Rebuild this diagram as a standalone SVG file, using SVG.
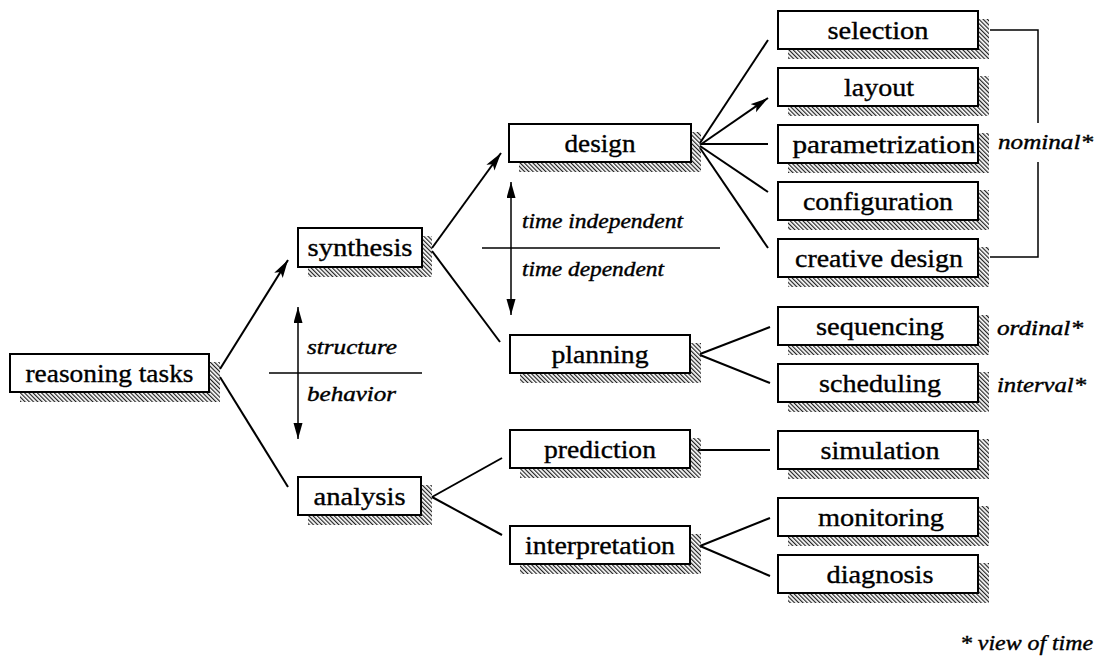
<svg xmlns="http://www.w3.org/2000/svg" width="1097" height="665" viewBox="0 0 1097 665">
<defs>
<pattern id="hatch" patternUnits="userSpaceOnUse" width="3" height="3" patternTransform="rotate(-45)">
<rect x="0" y="0" width="1.2" height="3" fill="#222"/>
</pattern>
<marker id="ah" markerUnits="userSpaceOnUse" markerWidth="20" markerHeight="12" refX="18" refY="5" orient="auto">
<path d="M0,0 L18,5 L0,10 L4,5 Z" fill="#000"/>
</marker>
<marker id="ahs" markerUnits="userSpaceOnUse" markerWidth="18" markerHeight="10" refX="16" refY="4.5" orient="auto-start-reverse">
<path d="M0,0 L16,4.5 L0,9 Z" fill="#000"/>
</marker>
</defs>
<style>
.bx{fill:#fff;stroke:#000;stroke-width:2}
.sh{fill:url(#hatch)}
.lb{font-family:"Liberation Serif","Times New Roman",serif;font-size:25px;fill:#000;stroke:#000;stroke-width:0.35;text-anchor:middle}
.it{font-family:"Liberation Serif","Times New Roman",serif;font-size:21px;font-style:italic;fill:#000;stroke:#000;stroke-width:0.4}
.ln{stroke:#000;stroke-width:2;fill:none}
.th{stroke:#000;stroke-width:1.5;fill:none}
</style>
<rect width="1097" height="665" fill="#fff"/>

<g id="connectors">
<line class="ln" x1="220" y1="369" x2="288" y2="260" marker-end="url(#ah)"/>
<line class="ln" x1="220" y1="377" x2="288" y2="487"/>
<line class="ln" x1="432" y1="248" x2="501" y2="153" marker-end="url(#ah)"/>
<line class="ln" x1="432" y1="251" x2="500" y2="342"/>
<line class="ln" x1="432" y1="497" x2="502" y2="458"/>
<line class="ln" x1="432" y1="497" x2="502" y2="535"/>
<line class="ln" x1="700" y1="143" x2="768" y2="40"/>
<line class="ln" x1="700" y1="145" x2="768" y2="98" marker-end="url(#ah)"/>
<line class="ln" x1="700" y1="144" x2="768" y2="144"/>
<line class="ln" x1="700" y1="146" x2="768" y2="192"/>
<line class="ln" x1="700" y1="148" x2="768" y2="248"/>
<line class="ln" x1="700" y1="354" x2="770" y2="327"/>
<line class="ln" x1="700" y1="355" x2="770" y2="383"/>
<line class="ln" x1="698" y1="450" x2="770" y2="450"/>
<line class="ln" x1="700" y1="546" x2="770" y2="518"/>
<line class="ln" x1="700" y1="546" x2="770" y2="576"/>
<polyline class="th" points="990,30 1038,30 1038,123"/>
<polyline class="th" points="1038,162 1038,257 990,257"/>
<line class="th" x1="298" y1="307" x2="298" y2="439" marker-start="url(#ahs)" marker-end="url(#ahs)"/>
<line class="th" x1="269" y1="373" x2="422" y2="373"/>
<line class="th" x1="511" y1="182" x2="511" y2="315" marker-start="url(#ahs)" marker-end="url(#ahs)"/>
<line class="th" x1="482" y1="248" x2="720" y2="248"/>
</g>

<g id="n-reasoning"><rect class="sh" x="20" y="362" width="200" height="40"/><rect class="bx" x="10" y="354" width="199" height="38"/><text class="lb" x="109.5" y="382" textLength="168" lengthAdjust="spacingAndGlyphs">reasoning tasks</text></g>
<g id="n-synthesis"><rect class="sh" x="308" y="236" width="124" height="41"/><rect class="bx" x="298" y="228" width="124" height="39"/><text class="lb" x="360" y="256" textLength="105" lengthAdjust="spacingAndGlyphs">synthesis</text></g>
<g id="n-analysis"><rect class="sh" x="308" y="485" width="124" height="40"/><rect class="bx" x="298" y="477" width="123" height="38"/><text class="lb" x="359.5" y="505" textLength="92" lengthAdjust="spacingAndGlyphs">analysis</text></g>
<g id="n-design"><rect class="sh" x="519" y="132" width="182" height="40"/><rect class="bx" x="509" y="124" width="182" height="38"/><text class="lb" x="600" y="152" textLength="71" lengthAdjust="spacingAndGlyphs">design</text></g>
<g id="n-planning"><rect class="sh" x="520" y="343" width="181" height="40"/><rect class="bx" x="510" y="335" width="180" height="38"/><text class="lb" x="600" y="363" textLength="97" lengthAdjust="spacingAndGlyphs">planning</text></g>
<g id="n-prediction"><rect class="sh" x="520" y="438" width="181" height="40"/><rect class="bx" x="510" y="430" width="180" height="38"/><text class="lb" x="600" y="458" textLength="112" lengthAdjust="spacingAndGlyphs">prediction</text></g>
<g id="n-interpretation"><rect class="sh" x="520" y="534" width="181" height="40"/><rect class="bx" x="510" y="526" width="180" height="38"/><text class="lb" x="600" y="554" textLength="150" lengthAdjust="spacingAndGlyphs">interpretation</text></g>

<g id="n-selection"><rect class="sh" x="788" y="19" width="201" height="40"/><rect class="bx" x="778" y="11" width="200" height="38"/><text class="lb" x="878" y="39" textLength="101" lengthAdjust="spacingAndGlyphs">selection</text></g>
<g id="n-layout"><rect class="sh" x="788" y="76" width="201" height="40"/><rect class="bx" x="778" y="68" width="200" height="38"/><text class="lb" x="879" y="96" textLength="70" lengthAdjust="spacingAndGlyphs">layout</text></g>
<g id="n-parametrization"><rect class="sh" x="788" y="133" width="201" height="40"/><rect class="bx" x="778" y="125" width="200" height="38"/><text class="lb" x="884" y="153" textLength="183" lengthAdjust="spacingAndGlyphs">parametrization</text></g>
<g id="n-configuration"><rect class="sh" x="788" y="190" width="201" height="40"/><rect class="bx" x="778" y="182" width="200" height="38"/><text class="lb" x="878" y="210" textLength="150" lengthAdjust="spacingAndGlyphs">configuration</text></g>
<g id="n-creative"><rect class="sh" x="788" y="247" width="201" height="40"/><rect class="bx" x="778" y="239" width="200" height="38"/><text class="lb" x="879" y="267" textLength="168" lengthAdjust="spacingAndGlyphs">creative design</text></g>
<g id="n-sequencing"><rect class="sh" x="788" y="315" width="201" height="40"/><rect class="bx" x="778" y="307" width="200" height="38"/><text class="lb" x="880" y="335" textLength="128" lengthAdjust="spacingAndGlyphs">sequencing</text></g>
<g id="n-scheduling"><rect class="sh" x="788" y="372" width="201" height="40"/><rect class="bx" x="778" y="364" width="200" height="38"/><text class="lb" x="880" y="392" textLength="122" lengthAdjust="spacingAndGlyphs">scheduling</text></g>
<g id="n-simulation"><rect class="sh" x="788" y="439" width="201" height="40"/><rect class="bx" x="778" y="431" width="200" height="38"/><text class="lb" x="880" y="459" textLength="119" lengthAdjust="spacingAndGlyphs">simulation</text></g>
<g id="n-monitoring"><rect class="sh" x="788" y="506" width="201" height="40"/><rect class="bx" x="778" y="498" width="200" height="38"/><text class="lb" x="881" y="526" textLength="126" lengthAdjust="spacingAndGlyphs">monitoring</text></g>
<g id="n-diagnosis"><rect class="sh" x="788" y="563" width="201" height="40"/><rect class="bx" x="778" y="555" width="200" height="38"/><text class="lb" x="880" y="583" textLength="107" lengthAdjust="spacingAndGlyphs">diagnosis</text></g>

<g id="labels">
<text class="it" x="307" y="354" textLength="90" lengthAdjust="spacingAndGlyphs">structure</text>
<text class="it" x="307" y="401" textLength="89" lengthAdjust="spacingAndGlyphs">behavior</text>
<text class="it" x="522" y="228" textLength="161" lengthAdjust="spacingAndGlyphs">time independent</text>
<text class="it" x="522" y="276" textLength="142" lengthAdjust="spacingAndGlyphs">time dependent</text>
<text class="it" x="998" y="149" textLength="95" lengthAdjust="spacingAndGlyphs">nominal*</text>
<text class="it" x="997" y="335" textLength="86" lengthAdjust="spacingAndGlyphs">ordinal*</text>
<text class="it" x="997" y="392" textLength="89" lengthAdjust="spacingAndGlyphs">interval*</text>
<text class="it" x="960" y="650" textLength="133" lengthAdjust="spacingAndGlyphs">* view of time</text>
</g>
</svg>
